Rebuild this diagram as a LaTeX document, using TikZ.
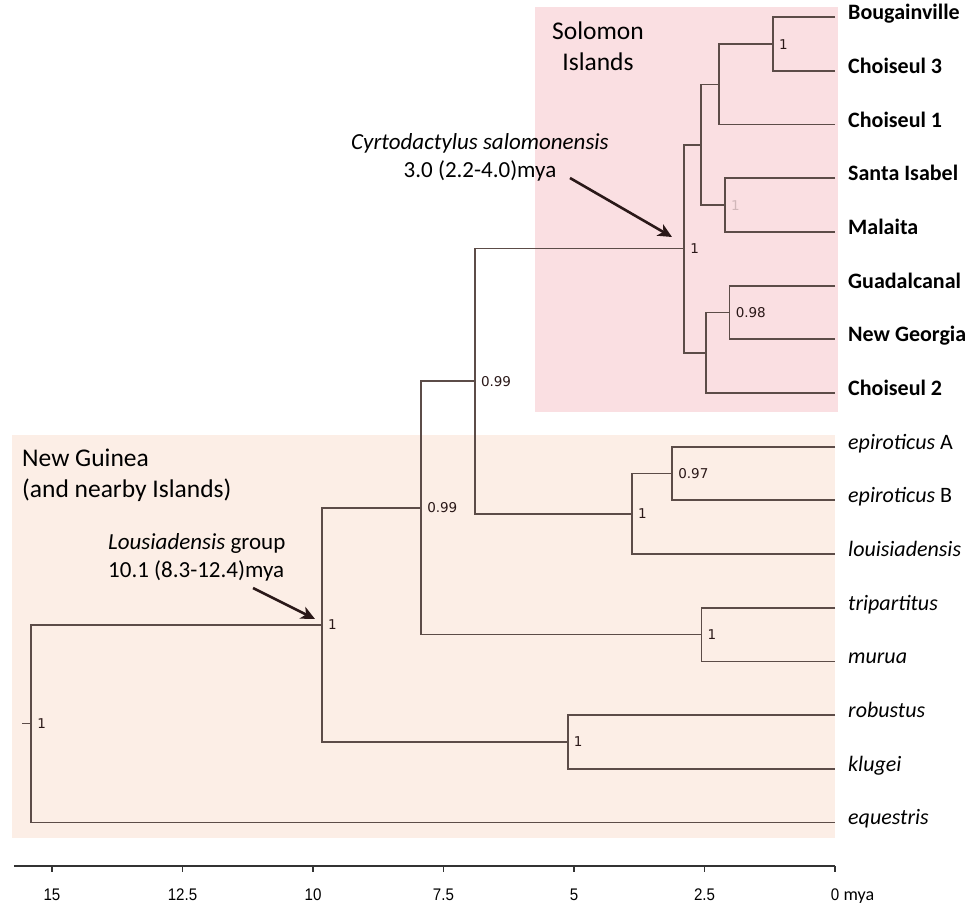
\documentclass[tikz,border=0pt]{standalone}
\usepackage{fontspec}
\setmainfont{Carlito}
\newfontfamily\supfont{DejaVu Sans}
\newfontfamily\axisfont[FakeStretch=0.9]{Liberation Sans}
\usetikzlibrary{arrows.meta,positioning}
\definecolor{solpink}{RGB}{250,223,226}
\definecolor{ngpeach}{RGB}{252,238,230}
\definecolor{branch}{RGB}{92,76,72}
\definecolor{ink}{RGB}{42,24,24}

\tikzset{
  br/.style={branch,line width=1.7pt},
  axis/.style={black!80,line width=1.3pt},
  arr/.style={ink,line width=2.6pt},
  tip/.style={inner sep=0pt,anchor=mid west,font=\fontsize{22}{27}\selectfont},
  soltip/.style={tip,font=\fontsize{22}{27}\selectfont\bfseries},
  post/.style={inner sep=0pt,anchor=west,xshift=6pt,text=ink,font=\supfont\fontsize{13.5}{16}\selectfont},
  ticklab/.style={inner sep=0pt,anchor=base,font=\axisfont\fontsize{16.8}{18}\selectfont},
  note/.style={inner sep=0pt,font=\fontsize{23}{28}\selectfont},
  region/.style={inner sep=0pt,font=\fontsize{25.5}{31}\selectfont}
}

\begin{document}
\begin{tikzpicture}[>={Stealth[length=14pt,width=13pt,inset=4pt]}]
\useasboundingbox (0,0) rectangle (976pt,-905pt);
% island groups
\fill[ngpeach] (11.7pt,-435pt) rectangle (835pt,-838pt);
\fill[solpink] (535pt,-7pt) rectangle (838pt,-411.7pt);

% tree: x is age in mya, y is the row of the tip
\begin{scope}[shift={(835pt,-17.3pt)},x={(-52.2pt,0pt)},y={(0pt,-53.67pt)}]
\foreach \nm [count=\i from 0] in {bou,chtr,chon,sis,mal,gua,nge,chtw,epa,epb,lou,tri,mur,rob,klu,equ}
  \coordinate (\nm) at (0,\i);
\coordinate (bc) at (1.19,0.5);
\coordinate (bcc) at (2.22,1.25);
\coordinate (sm) at (2.11,3.5);
\coordinate (nth) at (2.57,2.375);
\coordinate (gn) at (2.02,5.5);
\coordinate (sth) at (2.47,6.25);
\coordinate (sol) at (2.89,4.31);
\coordinate (ep) at (3.12,8.5);
\coordinate (epl) at (3.89,9.25);
\coordinate (up) at (6.90,6.78);
\coordinate (tm) at (2.56,11.5);
\coordinate (lo) at (7.93,9.14);
\coordinate (rk) at (5.12,13.5);
\coordinate (lgrp) at (9.83,11.32);
\coordinate (root) at (15.40,13.16);
\coordinate (stub) at (15.57,13.16);

\foreach \p/\a/\b in {bc/bou/chtr,bcc/bc/chon,sm/sis/mal,nth/bcc/sm,gn/gua/nge,sth/gn/chtw,
  sol/nth/sth,ep/epa/epb,epl/ep/lou,up/sol/epl,tm/tri/mur,lo/up/tm,rk/rob/klu,lgrp/lo/rk,root/lgrp/equ}
  \draw[br] (\a) -| (\p) |- (\b);
\draw[br] (stub) -- (root);

% posterior values
\foreach \p/\v in {bc/1,gn/0.98,sol/1,ep/0.97,epl/1,up/0.99,tm/1,lo/0.99,rk/1,lgrp/1,root/1}
  \node[post] (s\p) at (\p) {\v};
\node[post,opacity=.2] (ssm) at (sm) {1};

% tip labels
\foreach \nm/\txt in {bou/Bougainville,chtr/Choiseul 3,chon/Choiseul 1,sis/Santa Isabel,
  mal/Malaita,gua/Guadalcanal,nge/New Georgia,chtw/Choiseul 2}
  \node[right=13pt of \nm,soltip] (l\nm) {\txt};
\foreach \nm/\txt in {epa/\textit{epiroticus} A,epb/\textit{epiroticus} B,lou/\textit{louisiadensis},
  tri/\textit{tripartitus},mur/\textit{murua},rob/\textit{robustus},klu/\textit{klugei},equ/\textit{equestris}}
  \node[right=13pt of \nm,tip] (l\nm) {\txt};

% time axis
\coordinate (axl) at (15.73,15.813);
\coordinate (axr) at (0,15.813);
\draw[axis] (axl) -- (axr);
\foreach \t [count=\k] in {0,2.5,5,7.5,10,12.5,15} {
  \draw[axis] (\t,15.813) -- ++(0pt,-6pt);
  \node[ticklab] (tk\k) at (\t,16.447) {\t};
}
\end{scope}
\node[anchor=base west,inner sep=0pt,font=\fontsize{18}{20}\selectfont] (mya) at ([xshift=4pt]tk1.base east) {mya};

% annotations
\node[region,align=center] (solreg) at (598pt,-46pt) {Solomon\\Islands};
\node[region,align=left,anchor=west] (ngreg) at (22pt,-475pt) {New Guinea\\(and nearby Islands)};
\node[note,align=center] (cyrnote) at (480pt,-157pt) {\textit{Cyrtodactylus salomonensis}\\3.0 (2.2-4.0)mya};
\node[note,align=left,anchor=west] (lgnote) at (108pt,-557pt) {\textit{Lousiadensis} group\\10.1 (8.3-12.4)mya};
\coordinate (cyrfrom) at (570pt,-178pt);
\coordinate (cyrto) at (672pt,-237pt);
\coordinate (lgfrom) at (253pt,-588pt);
\coordinate (lgto) at (315pt,-619pt);
\draw[arr,->] (cyrfrom) -- (cyrto);
\draw[arr,->] (lgfrom) -- (lgto);
\end{tikzpicture}
\end{document}
